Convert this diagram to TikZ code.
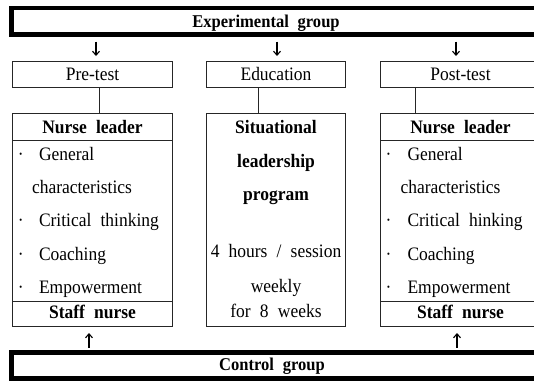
\documentclass[tikz,border=0pt]{standalone}
\usepackage{fontspec}
\setmainfont[WordSpace=2.1,FakeStretch=0.92]{Liberation Serif}
\usetikzlibrary{arrows.meta}
\begin{document}
\begin{tikzpicture}[x=1pt,y=-1pt,
  thinbox/.style={draw=black!85, line width=0.9pt, inner sep=0pt, outer sep=0pt, anchor=north west},
  groupbox/.style={draw=black, line width=4.6pt, inner sep=0pt, outer sep=0pt, anchor=north west},
  txt/.style={inner sep=0pt, outer sep=0pt, anchor=base, font=\fontsize{19}{22}\selectfont},
  ltxt/.style={txt, anchor=base west},
  btxt/.style={txt, font=\fontsize{19}{22}\selectfont\bfseries},
  gtxt/.style={txt, font=\fontsize{18}{22}\selectfont\bfseries},
  arr/.style={line width=1.1pt, -{Straight Barb[length=4pt,width=7pt]}},
  conn/.style={draw=black!85, line width=0.9pt}]
\useasboundingbox (0,0) rectangle (534,381);

% group boxes
\node[groupbox, minimum width=532pt, minimum height=26.5pt] (exp) at (11.5,8) {};
\node[gtxt] (expt) at (266,27.5) {Experimental group};
\node[groupbox, minimum width=532pt, minimum height=26pt] (ctl) at (11.5,352.5) {};
\node[gtxt] (ctlt) at (272,370) {Control group};

% top small boxes
\node[thinbox, minimum width=160pt, minimum height=26pt] (pre) at (12.5,61) {};
\node[txt] (pret) at (92.5,80.5) {Pre-test};
\node[thinbox, minimum width=139pt, minimum height=26pt] (edu) at (206.5,61) {};
\node[txt] (edut) at (276,80.5) {Education};
\node[thinbox, minimum width=160pt, minimum height=26pt] (post) at (380.5,61) {};
\node[txt] (postt) at (460.5,80.5) {Post-test};

% large boxes
\node[thinbox, minimum width=160pt, minimum height=213pt] (nl) at (12.5,113) {};
\node[thinbox, minimum width=139pt, minimum height=213pt] (prog) at (206.5,113) {};
\node[thinbox, minimum width=160pt, minimum height=213pt] (nr) at (380.5,113) {};

% separators
\draw[conn] (12.5,140) -- (172.5,140);
\draw[conn] (12.5,301) -- (172.5,301);
\draw[conn] (380.5,140) -- (541,140);
\draw[conn] (380.5,301) -- (541,301);

% left column text
\node[btxt] (nlh) at (92.5,133) {Nurse leader};
\node[txt] (lb1) at (20.7,160) {·};
\node[ltxt] (l1) at (39,160) {General};
\node[ltxt] (l2) at (32,193.3) {characteristics};
\node[txt] (lb3) at (20.7,226.6) {·};
\node[ltxt] (l3) at (39,226.6) {Critical thinking};
\node[txt] (lb4) at (20.7,260) {·};
\node[ltxt] (l4) at (39,260) {Coaching};
\node[txt] (lb5) at (20.7,293.3) {·};
\node[ltxt] (l5) at (39,293.3) {Empowerment};
\node[btxt] (nls) at (92.5,318) {Staff nurse};

% middle column text
\node[btxt] (m1) at (276,133.5) {Situational};
\node[btxt] (m2) at (276,167) {leadership};
\node[btxt] (m3) at (276,200.5) {program};
\node[txt] (m4) at (276,257.5) {4 hours / session};
\node[txt] (m5) at (276,292) {weekly};
\node[txt] (m6) at (276,317) {for 8 weeks};

% right column text
\node[btxt] (nrh) at (460.5,133) {Nurse leader};
\node[txt] (rb1) at (388.5,160) {·};
\node[ltxt] (r1) at (407.5,160) {General};
\node[ltxt] (r2) at (400.5,193.3) {characteristics};
\node[txt] (rb3) at (388.5,226.6) {·};
\node[ltxt] (r3) at (407.5,226.6) {Critical hinking};
\node[txt] (rb4) at (388.5,260) {·};
\node[ltxt] (r4) at (407.5,260) {Coaching};
\node[txt] (rb5) at (388.5,293.3) {·};
\node[ltxt] (r5) at (407.5,293.3) {Empowerment};
\node[btxt] (nrs) at (460.5,318) {Staff nurse};

% connector x positions
\coordinate (a1) at (96,0);
\coordinate (a2) at (277,0);
\coordinate (a3) at (456,0);
\coordinate (c1) at (99,0);
\coordinate (c2) at (258,0);
\coordinate (c3) at (415,0);
\coordinate (u1) at (89,0);
\coordinate (u3) at (457,0);

% down arrows
\draw[arr, shorten <=7pt, shorten >=5pt] (exp.south -| a1) -- (pre.north -| a1);
\draw[arr, shorten <=7pt, shorten >=5pt] (exp.south -| a2) -- (edu.north -| a2);
\draw[arr, shorten <=7pt, shorten >=5pt] (exp.south -| a3) -- (post.north -| a3);

% vertical connectors
\draw[conn] (pre.south -| c1) -- (nl.north -| c1);
\draw[conn] (edu.south -| c2) -- (prog.north -| c2);
\draw[conn] (post.south -| c3) -- (nr.north -| c3);

% up arrows
\draw[arr, shorten <=5pt, shorten >=7pt] (ctl.north -| u1) -- (nl.south -| u1);
\draw[arr, shorten <=5pt, shorten >=7pt] (ctl.north -| u3) -- (nr.south -| u3);
\end{tikzpicture}
\end{document}
